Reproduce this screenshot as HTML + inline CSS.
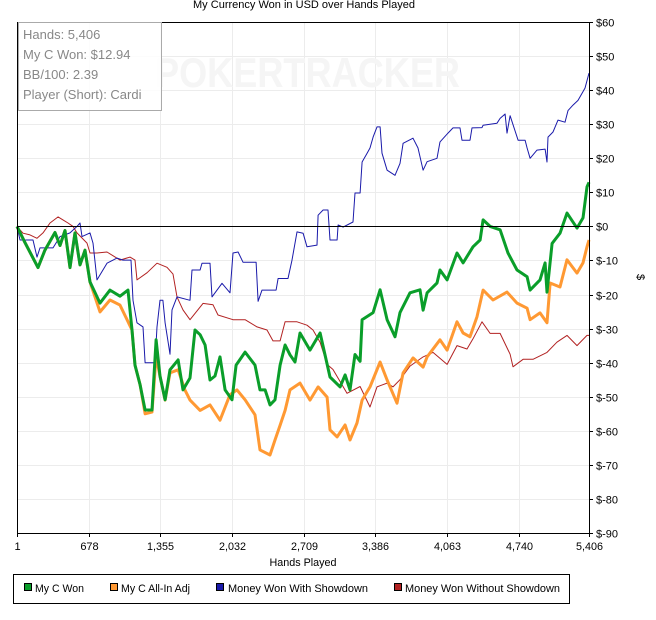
<!DOCTYPE html>
<html><head><meta charset="utf-8">
<style>
body{margin:0;background:#fff;width:656px;height:620px;overflow:hidden;font-family:"Liberation Sans",sans-serif;}
svg{display:block}
</style></head>
<body>
<svg id="chart" width="656" height="620" font-family="Liberation Sans, sans-serif">
<text x="304" y="8" font-size="11" text-anchor="middle" fill="#000" textLength="222" lengthAdjust="spacingAndGlyphs">My Currency Won in USD over Hands Played</text>
<g id="grid"></g>
<text x="155" y="87" font-size="42" font-weight="bold" fill="#f5f5f5" textLength="305" lengthAdjust="spacingAndGlyphs">POKERTRACKER</text>
<g id="series"></g>
<g id="axes"></g>
<g>
<rect x="18.5" y="22.5" width="143" height="88" fill="rgba(255,255,255,0.85)" stroke="#aaa"/>
<text x="23" y="39" font-size="13" fill="#888">Hands: 5,406</text>
<text x="23" y="59" font-size="13" fill="#888">My C Won: $12.94</text>
<text x="23" y="79" font-size="13" fill="#888">BB/100: 2.39</text>
<text x="23" y="99" font-size="13" fill="#888">Player (Short): Cardi</text>
</g>
<text x="303" y="566" font-size="11" text-anchor="middle" textLength="67" lengthAdjust="spacingAndGlyphs">Hands Played</text>
<text transform="translate(637,277) rotate(90)" font-size="11" text-anchor="middle">$</text>
<g>
<rect x="13.5" y="574.5" width="556" height="29" fill="#fff" stroke="#000"/>
<g><rect x="24.5" y="583.5" width="7" height="7" fill="#0a9e2a" stroke="#000"/><text x="35" y="592" font-size="11" textLength="49" lengthAdjust="spacingAndGlyphs">My C Won</text></g>
<g><rect x="110.5" y="583.5" width="7" height="7" fill="#ff9933" stroke="#000"/><text x="121" y="592" font-size="11" textLength="69" lengthAdjust="spacingAndGlyphs">My C All-In Adj</text></g>
<g><rect x="216.5" y="583.5" width="7" height="7" fill="#1a1aaa" stroke="#000"/><text x="228" y="592" font-size="11" textLength="140" lengthAdjust="spacingAndGlyphs">Money Won With Showdown</text></g>
<g><rect x="394.5" y="583.5" width="7" height="7" fill="#b22222" stroke="#000"/><text x="405" y="592" font-size="11" textLength="155" lengthAdjust="spacingAndGlyphs">Money Won Without Showdown</text></g>
</g>
</svg>
<script>
const xTicks = [1,678,1355,2032,2709,3386,4063,4740,5406];
const xTickLabels = ["1","678","1,355","2,032","2,709","3,386","4,063","4,740","5,406"];
const yTicks = [60,50,40,30,20,10,0,-10,-20,-30,-40,-50,-60,-70,-80,-90];
const yTickLabels = ["$60","$50","$40","$30","$20","$10","$0","$-10","$-20","$-30","$-40","$-50","$-60","$-70","$-80","$-90"];

const greenHands = [1,76,199,265,360,407,455,502,549,596,644,691,785,880,974,1050,1088,1116,1164,1211,1277,1315,1352,1400,1447,1523,1570,1636,1683,1731,1778,1825,1872,1919,1967,2033,2071,2156,2250,2297,2345,2392,2439,2487,2534,2581,2628,2675,2770,2865,2959,3054,3101,3148,3195,3243,3262,3366,3432,3498,3573,3620,3715,3809,3838,3876,3970,3998,4065,4159,4216,4310,4377,4405,4471,4566,4641,4726,4821,4849,4943,4991,5009,5057,5132,5198,5293,5349,5387,5406];
const greenValues = [0,-4.7,-12.1,-7,-1.8,-5.6,-1.2,-12.1,-1.9,-11.3,-7,-16.3,-22.5,-18.7,-20.5,-18.7,-30.4,-40.7,-46.5,-53.9,-53.9,-33.3,-43.9,-50.9,-42.1,-39.2,-48,-44.5,-30.4,-31.8,-34.8,-45.1,-43.9,-38.3,-48,-50.9,-40.7,-36.9,-40.7,-48,-48,-52.4,-50.9,-40.7,-34.8,-37.7,-39.8,-31.3,-36.3,-31.3,-44.2,-47.1,-43.6,-48,-37.6,-39.6,-27.4,-25.3,-18.6,-27.4,-32.4,-25.3,-19.5,-18.6,-24.6,-19.5,-16.6,-12.8,-15.7,-7.8,-10.7,-6,-4,1.9,0,-1,-7.8,-12.8,-14.8,-18.7,-15.7,-10.7,-19.3,-5,-2,3.9,-0.5,2.5,11.6,12.94];

const orangeHands = [1,76,199,265,360,407,455,502,549,596,644,691,785,880,974,1088,1116,1164,1211,1277,1315,1352,1400,1447,1523,1588,1636,1731,1825,1919,2014,2080,2156,2250,2297,2392,2439,2487,2534,2581,2675,2770,2846,2931,2959,3026,3101,3148,3214,3262,3337,3432,3498,3592,3649,3743,3838,3876,3998,4065,4159,4216,4282,4348,4405,4499,4631,4726,4821,4849,4943,5009,5038,5132,5198,5293,5349,5387,5406];
const orangeValues = [0,-4.7,-12.1,-7,-1.8,-5.6,-1.2,-12.1,-1.9,-11.3,-7,-16.3,-25.1,-21.6,-23.1,-30.4,-40.7,-46.5,-55,-54.5,-38,-44,-51,-43,-42.1,-48,-51,-54,-52.4,-56.9,-49.4,-48,-50.9,-55.3,-65.6,-67.1,-62.7,-58.4,-54,-48,-46,-51,-47.1,-50.1,-59.7,-61.8,-58.3,-62.7,-57.7,-51,-47.1,-39.8,-45.1,-51.9,-43,-38.6,-41.3,-38.3,-33.3,-36.3,-28,-31.3,-32.4,-26.5,-18.7,-21.6,-19.3,-22.5,-24,-27.4,-25.4,-28.3,-16.6,-17.8,-9.8,-13.7,-10.7,-6,-4];

const blueHands = [1,29,152,190,218,341,407,502,568,596,615,691,719,757,851,946,1003,1078,1097,1135,1192,1211,1305,1324,1352,1380,1400,1447,1466,1513,1636,1655,1731,1749,1825,1844,1938,2014,2042,2090,2137,2260,2279,2316,2449,2468,2562,2600,2647,2704,2741,2836,2846,2893,2940,2959,3026,3035,3082,3176,3195,3243,3262,3309,3337,3366,3403,3432,3450,3498,3573,3620,3649,3743,3790,3838,3876,3970,3998,4074,4121,4187,4206,4282,4300,4395,4405,4537,4566,4613,4631,4660,4736,4802,4821,4849,4915,4991,5009,5019,5066,5113,5179,5208,5255,5302,5368,5406];
const blueValues = [0,-4,-4,-9,-6.3,-6.3,-3,-1.9,0,1,-3,-1.9,-4.9,-15.7,-10.8,-9.3,-9.9,-9.9,-21.7,-28.3,-29.5,-40,-40,-29.5,-21.7,-21.7,-28.3,-37.5,-24.5,-20.7,-21.7,-12.8,-12.8,-10.8,-10.8,-20.7,-16.7,-19.5,-7.8,-7.5,-10.5,-10.5,-22,-18.7,-18.7,-15.3,-15.3,-9.9,-1.6,-2,-6,-5.5,3.3,4.8,4.8,-4,-4,0.4,-0.2,1.3,9.8,9.8,18.9,21.5,23,26.2,29.2,29.2,21.5,16.5,15,18.5,24.4,25.9,23,16.5,19,20,24.8,27.4,28.9,28.9,25.3,25.3,28.9,29,29.7,30.3,31.7,33,27.4,32.5,25.3,25.3,23,20,22.4,22.7,18.9,26.2,27.7,31.2,30.6,34,35.6,37,40.6,45];

const redHands = [1,58,124,190,247,313,389,436,483,530,568,662,691,757,851,974,1069,1116,1135,1230,1324,1418,1475,1513,1570,1636,1759,1853,1900,2042,2156,2269,2363,2420,2487,2534,2647,2741,2798,2865,2931,2987,3119,3243,3337,3403,3498,3554,3620,3715,3838,3932,4065,4159,4253,4310,4395,4471,4566,4660,4688,4783,4877,5009,5103,5198,5293,5387,5406];
const redValues = [0,-2,-2.5,-3.5,-1.9,1,2.8,1.9,1,0,-1.9,-4.9,-7.8,-7.8,-7.5,-9.9,-9,-9.9,-15.7,-13.6,-10.8,-12,-14,-20.7,-24.5,-27.4,-22.6,-23,-26,-27.4,-27.4,-29.5,-30.4,-33.6,-33.6,-28,-28,-29,-30.4,-34,-40.5,-42,-49,-47,-53,-47.1,-46,-47.1,-45,-41,-38.3,-37,-40.5,-35,-36,-33,-28,-31.4,-31.4,-37.5,-41.2,-39,-39,-37,-34,-32,-35,-32,-32];

const NS='http://www.w3.org/2000/svg';
const L=17,R=589,T=22,B=533;
const xs=h=>L+(h-1)/(5406-1)*(R-L);
const ys=v=>T+(60-v)/150*(B-T);
function mk(tag,attrs,parent){const e=document.createElementNS(NS,tag);for(const k in attrs)e.setAttribute(k,attrs[k]);parent.appendChild(e);return e;}
const grid=document.getElementById('grid'),axes=document.getElementById('axes'),ser=document.getElementById('series');
xTicks.forEach((t,i)=>{
  const x=Math.round(xs(t))+0.5;
  const g=mk('line',{x1:x,x2:x,y1:T,y2:B,stroke:'#ececec'},grid);
  
  
  mk('line',{x1:x,x2:x,y1:B,y2:B+4,stroke:'#000'},axes);
  const tx=mk('text',{x:x,y:B+17,'font-size':11,'text-anchor':'middle'},axes);
  tx.textContent=xTickLabels[i];
  if(xTickLabels[i].length>3){tx.setAttribute('textLength',xTickLabels[i].length*5.4);tx.setAttribute('lengthAdjust','spacingAndGlyphs');}
  
  
});
yTicks.forEach((t,i)=>{
  const y=Math.round(ys(t))+0.5;
  const g=mk('line',{x1:L,x2:R,y1:y,y2:y,stroke:t===0?'#000':'#ececec'},t===0?axes:grid);
  
  
  mk('line',{x1:R,x2:R+4,y1:y,y2:y,stroke:'#000'},axes);
  const tx=mk('text',{x:R+7,y:y+4,'font-size':11},axes);
  tx.textContent=yTickLabels[i];
  
  
});
mk('line',{x1:L+0.5,x2:L+0.5,y1:T,y2:B,stroke:'#000'},axes);
mk('line',{x1:R+0.5,x2:R+0.5,y1:T,y2:B+1,stroke:'#000'},axes);
mk('line',{x1:L,x2:R,y1:B+0.5,y2:B+0.5,stroke:'#000'},axes);
mk('line',{x1:L,x2:R,y1:T+0.5,y2:T+0.5,stroke:'#000'},axes);
function draw(hands,vals,color,w,name){
  const d=hands.map((h,i)=>(i?'L':'M')+xs(h).toFixed(1)+','+ys(vals[i]).toFixed(1)).join('');
  const p=mk('path',{d:d,fill:'none',stroke:color,'stroke-width':w,'stroke-linejoin':'round'},ser);
  
  
}
draw(redHands,redValues,'#b22222',1,'line-money-won-without-showdown');
draw(blueHands,blueValues,'#1a1aaa',1,'line-money-won-with-showdown');
draw(orangeHands,orangeValues,'#ff9933',3,'line-my-c-all-in-adj');
draw(greenHands,greenValues,'#0a9e2a',3,'line-my-c-won');
</script>
</body></html>
